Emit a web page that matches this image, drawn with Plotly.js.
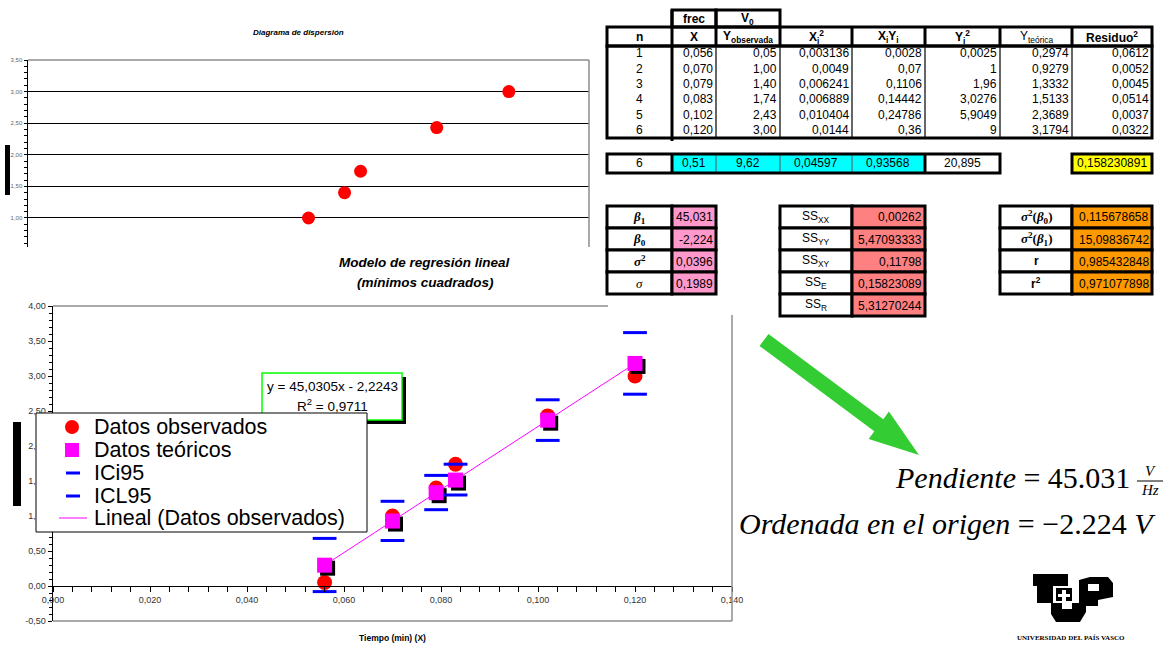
<!DOCTYPE html>
<html><head><meta charset="utf-8">
<script src="https://cdn.plot.ly/plotly-3.0.1.min.js"></script>
<style>html,body{margin:0;padding:0;background:#fff;}#chart{width:1171px;height:645px;}</style>
</head><body><div id="chart"></div>
<script>
// ---------------- DATA ----------------
const nIdx = [1, 2, 3, 4, 5, 6];
const frecX = [0.056, 0.070, 0.079, 0.083, 0.102, 0.120];
const yObservada = [0.05, 1.00, 1.40, 1.74, 2.43, 3.00];
const xi2 = [0.003136, 0.0049, 0.006241, 0.006889, 0.010404, 0.0144];
const xiyi = [0.0028, 0.07, 0.1106, 0.14442, 0.24786, 0.36];
const yi2 = [0.0025, 1, 1.96, 3.0276, 5.9049, 9];
const yTeorica = [0.2974, 0.9279, 1.3332, 1.5133, 2.3689, 3.1794];
const residuo2 = [0.0612, 0.0052, 0.0045, 0.0514, 0.0037, 0.0322];
const ici95 = [-0.08, 0.65, 1.09, 1.30, 2.08, 2.74];
const icl95 = [0.68, 1.21, 1.58, 1.74, 2.66, 3.62];
const sumas = ['6', '0,51', '9,62', '0,04597', '0,93568', '20,895'];
const sumaResiduo2 = '0,158230891';
const topHeaders = ['frec', 'V<sub>0</sub>'];
const headers = ['<b>n</b>', '<b>X</b>', '<b>Y<sub>observada</sub></b>', '<b>X<sub>i</sub><sup>2</sup></b>',
  '<b>X<sub>i</sub>Y<sub>i</sub></b>', '<b>Y<sub>i</sub><sup>2</sup></b>', 'Y<sub>teórica</sub>', '<b>Residuo<sup>2</sup></b>'];
const betaLabels = ['<b><i>β</i><sub>1</sub></b>', '<b><i>β</i><sub>0</sub></b>', '<b><i>σ</i><sup>2</sup></b>', '<i>σ</i>'];
const betaValues = ['45,031', '-2,224', '0,0396', '0,1989'];
const ssLabels = ['SS<sub>XX</sub>', 'SS<sub>YY</sub>', 'SS<sub>XY</sub>', 'SS<sub>E</sub>', 'SS<sub>R</sub>'];
const ssValues = ['0,00262', '5,47093333', '0,11798', '0,15823089', '5,31270244'];
const varLabels = ['<b><i>σ</i><sup>2</sup>(<i>β</i><sub>0</sub>)</b>', '<b><i>σ</i><sup>2</sup>(<i>β</i><sub>1</sub>)</b>', '<b>r</b>', '<b>r<sup>2</sup></b>'];
const varValues = ['0,115678658', '15,09836742', '0,985432848', '0,971077898'];
const ecuacion = ['y = 45,0305x - 2,2243', 'R<sup>2</sup> = 0,9711'];
const legendNames = ['Datos observados', 'Datos teóricos', 'ICi95', 'ICL95', 'Lineal (Datos observados)'];
const yTickVals = [-0.5, 0, 0.5, 1, 1.5, 2, 2.5, 3, 3.5, 4];
const yTickText = ['-0,50', '0,00', '0,50', '1,00', '1,50', '2,00', '2,50', '3,00', '3,50', '4,00'];
const titles = {
  top: '<b><i>Diagrama de dispersión</i></b>',
  main1: '<b><i>Modelo de regresión lineal</i></b>',
  main2: '<b><i>(mínimos cuadrados)</i></b>',
  xMain: '<b>Tiempo (min) (X)</b>',
  pendiente: '<i>Pendiente</i> = 45.031',
  ordenada: '<i>Ordenada en el origen</i> = −2.224 <i>V</i>',
  uni: '<b>UNIVERSIDAD DEL PAÍS VASCO</b>'
};

// ---------------- LAYOUT HELPERS ----------------
const W = 1171, H = 645;
const SANS = 'Liberation Sans, Arial, sans-serif';
const SERIF = 'Liberation Serif, Times New Roman, serif';
const px = x => x / W;
const py = y => 1 - y / H;
const shapes = [], annotations = [];
function rect(x0, y0, x1, y1, fill, lc, lw) {
  shapes.push({type: 'rect', xref: 'paper', yref: 'paper', x0: px(x0), x1: px(x1), y0: py(y1), y1: py(y0),
    fillcolor: fill || 'rgba(0,0,0,0)', line: {color: lc || 'rgba(0,0,0,0)', width: lw || 0}});
}
function circ(x0, y0, x1, y1, fill) {
  shapes.push({type: 'circle', xref: 'paper', yref: 'paper', x0: px(x0), x1: px(x1), y0: py(y1), y1: py(y0),
    fillcolor: fill, line: {width: 0}});
}
function seg(x0, y0, x1, y1, c, w) {
  shapes.push({type: 'line', xref: 'paper', yref: 'paper', x0: px(x0), x1: px(x1), y0: py(y0), y1: py(y1), line: {color: c, width: w}});
}
function poly(pts, fill) {
  const d = 'M' + pts.map(p => px(p[0]) + ',' + py(p[1])).join('L') + 'Z';
  shapes.push({type: 'path', xref: 'paper', yref: 'paper', path: d, fillcolor: fill, line: {width: 0}});
}
function txt(x, y, t, o) {
  o = o || {};
  annotations.push({xref: 'paper', yref: 'paper', x: px(x), y: py(y), text: t, showarrow: false,
    xanchor: o.xa || 'center', yanchor: o.ya || 'middle', borderpad: 0,
    font: {family: o.f || SANS, size: o.s || 12, color: o.c || '#000'}});
}
const gen = v => String(v).replace('.', ',');
const fix = d => v => v.toFixed(d).replace('.', ',');

// ---------------- PLOT GEOMETRY ----------------
const TOP = {x0: 28, x1: 589, y0: 60, y1: 247, xr: [0, 0.14], yr: [0.541, 3.5]};
const MAIN = {x0: 53, x1: 732, y0: 306, y1: 621, xr: [0, 0.14], yr: [-0.5, 4]};
const mainY0pix = MAIN.y0 + (MAIN.yr[1] - 0) / (MAIN.yr[1] - MAIN.yr[0]) * (MAIN.y1 - MAIN.y0);
const SHADOW = 3;
const dxS = SHADOW * (MAIN.xr[1] - MAIN.xr[0]) / (MAIN.x1 - MAIN.x0);
const dyS = -SHADOW * (MAIN.yr[1] - MAIN.yr[0]) / (MAIN.y1 - MAIN.y0);

// ---------------- TRACES ----------------
const traces = [
  {x: frecX, y: yObservada, xaxis: 'x', yaxis: 'y', mode: 'markers', cliponaxis: true,
   marker: {symbol: 'circle', color: '#FF0000', size: 13}, name: legendNames[0], hoverinfo: 'skip'},
  {x: frecX, y: yObservada, xaxis: 'x2', yaxis: 'y2', mode: 'markers',
   marker: {symbol: 'circle', color: '#FF0000', size: 15}, name: legendNames[0]},
  {x: frecX.map(v => v + dxS), y: yTeorica.map(v => v + dyS), xaxis: 'x2', yaxis: 'y2', mode: 'markers',
   marker: {symbol: 'square', color: '#000', size: 15}, hoverinfo: 'skip', name: 'sombra'},
  {x: frecX, y: yTeorica, xaxis: 'x2', yaxis: 'y2', mode: 'markers',
   marker: {symbol: 'square', color: '#FF00FF', size: 15}, name: legendNames[1]},
  {x: frecX, y: ici95, xaxis: 'x2', yaxis: 'y2', mode: 'markers',
   marker: {symbol: 'line-ew', size: 17, line: {color: '#0000FF', width: 3}}, name: legendNames[2]},
  {x: frecX, y: icl95, xaxis: 'x2', yaxis: 'y2', mode: 'markers',
   marker: {symbol: 'line-ew', size: 17, line: {color: '#0000FF', width: 3}}, name: legendNames[3]},
  {x: frecX, y: yTeorica, xaxis: 'x2', yaxis: 'y2', mode: 'lines',
   line: {color: '#FF00FF', width: 1}, name: legendNames[4]}
];

// ---------------- FRAMES / TITLES ----------------
seg(TOP.x0, TOP.y0, TOP.x1, TOP.y0, '#8c8c8c', 1.5);
seg(TOP.x1, TOP.y0, TOP.x1, TOP.y1, '#8c8c8c', 1.5);
rect(5, 145, 10, 195, '#000');
txt(298, 33, titles.top, {s: 8});
seg(MAIN.x0, MAIN.y0, 608, MAIN.y0, '#8c8c8c', 1.5);
seg(MAIN.x1, 315, MAIN.x1, MAIN.y1, '#8c8c8c', 1.5);
seg(MAIN.x0, MAIN.y1, MAIN.x1, MAIN.y1, '#8c8c8c', 1.5);
rect(13, 422, 21, 506, '#000');
txt(424, 263, titles.main1, {s: 13.5});
txt(425, 282, titles.main2, {s: 13.5});
txt(392, 638, titles.xMain, {s: 8.5});

// equation box
rect(266, 377, 406, 424, '#000');
rect(262, 373, 402, 420, '#fff', '#00FF00', 1.5);
txt(332, 386, ecuacion[0], {s: 13.5});
txt(332, 405, ecuacion[1], {s: 13.5});

// legend
rect(36, 413, 367, 532, '#fff', '#000', 1);
const LEG_Y = [427, 450, 473, 496, 518];
circ(65, LEG_Y[0] - 7, 79, LEG_Y[0] + 7, '#FF0000');
rect(65, LEG_Y[1] - 7, 79, LEG_Y[1] + 7, '#FF00FF');
seg(66, LEG_Y[2], 80, LEG_Y[2], '#0000FF', 3);
seg(66, LEG_Y[3], 80, LEG_Y[3], '#0000FF', 3);
seg(59, LEG_Y[4], 87, LEG_Y[4], '#FF00FF', 1);
legendNames.forEach((nm, i) => txt(93, LEG_Y[i], nm, {xa: 'left', s: 21.5}));

// ---------------- MAIN TABLE ----------------
const colEdges = [607, 672, 716, 780, 852, 925, 1000, 1072, 1152];
const R = {top: 10, head: 27, headBot: 46, dataBot: 138, sumTop: 154, sumBot: 173};
const rowH = (R.dataBot - R.headBot) / 6;
const cols = [nIdx.map(String), frecX.map(fix(3)), yObservada.map(fix(2)), xi2.map(gen), xiyi.map(gen),
  yi2.map(gen), yTeorica.map(fix(4)), residuo2.map(fix(4))];
const sumFill = ['#fff', '#00FFFF', '#00FFFF', '#00FFFF', '#00FFFF', '#fff'];
sumFill.forEach((f, i) => rect(colEdges[i], R.sumTop, colEdges[i + 1], R.sumBot, f));
rect(colEdges[7], R.sumTop, colEdges[8], R.sumBot, '#FFFF00');
rect(colEdges[1], R.top, colEdges[2], R.head, null, '#000', 3);
rect(colEdges[2], R.top, colEdges[3], R.head, null, '#000', 3);
rect(colEdges[0], R.head, colEdges[8], R.headBot, null, '#000', 3);
for (let i = 2; i < 8; i++) seg(colEdges[i], R.head, colEdges[i], R.headBot, '#000', 3);
for (let i = 2; i < 8; i++) seg(colEdges[i], R.headBot, colEdges[i], R.dataBot, '#333', 1.5);
rect(colEdges[0], R.headBot, colEdges[8], R.dataBot, null, '#000', 3);
seg(colEdges[1], R.top, colEdges[1], R.dataBot + 3, '#000', 3);
for (let i = 2; i < 5; i++) seg(colEdges[i], R.sumTop, colEdges[i], R.sumBot, '#555', 1);
seg(colEdges[1], R.sumTop, colEdges[1], R.sumBot, '#000', 3);
seg(colEdges[5], R.sumTop, colEdges[5], R.sumBot, '#000', 3);
rect(colEdges[0], R.sumTop, colEdges[6], R.sumBot, null, '#000', 3);
rect(colEdges[7], R.sumTop, colEdges[8], R.sumBot, null, '#000', 3);
topHeaders.forEach((t, i) => txt((colEdges[i + 1] + colEdges[i + 2]) / 2, (R.top + R.head) / 2 + 0.5, '<b>' + t + '</b>', {s: 12}));
headers.forEach((t, i) => txt((colEdges[i] + colEdges[i + 1]) / 2, (R.head + R.headBot) / 2, t, {s: 12}));
cols.forEach((col, c) => col.forEach((v, r) => {
  const yc = R.headBot + (r + 0.5) * rowH - 0.5;
  if (c === 0) txt((colEdges[0] + colEdges[1]) / 2, yc, v, {s: 12});
  else txt(colEdges[c + 1] - 2.5, yc, v, {s: 12, xa: 'right'});
}));
sumas.forEach((v, i) => txt((colEdges[i] + colEdges[i + 1]) / 2, (R.sumTop + R.sumBot) / 2, v, {s: 12}));
txt((colEdges[7] + colEdges[8]) / 2, (R.sumTop + R.sumBot) / 2, sumaResiduo2, {s: 12});

// ---------------- SMALL TABLES ----------------
function smallTable(x0, x1, x2, y0, rh, labels, values, fill, labelFont) {
  labels.forEach((lab, i) => {
    const ya = y0 + i * rh, yb = ya + rh;
    rect(x0, ya, x1, yb, '#fff', '#000', 3);
    rect(x1, ya, x2, yb, fill, '#000', 3);
    txt((x0 + x1) / 2, (ya + yb) / 2, lab, {s: labelFont(i).s, f: labelFont(i).f});
    txt(x2 - 2.5, (ya + yb) / 2 + 0.5, values[i], {s: 12, xa: 'right'});
  });
}
smallTable(607, 672, 716, 206, 22, betaLabels, betaValues, '#FF99CC', () => ({f: SERIF, s: 13}));
smallTable(780, 852, 925, 206, 22, ssLabels, ssValues, '#FF8080', () => ({f: SANS, s: 12}));
smallTable(1000, 1072, 1152, 206, 22, varLabels, varValues, '#FF9900', i => (i < 2 ? {f: SERIF, s: 13} : {f: SANS, s: 12}));

// ---------------- ARROW ----------------
poly([[768.5, 334], [883.3, 419.2], [888.9, 411.5], [919, 455], [868.7, 438.9], [874.3, 431.2], [759.5, 346]], '#33CC33');

// ---------------- EQUATIONS ----------------
txt(1131, 477, titles.pendiente, {xa: 'right', f: SERIF, s: 30});
txt(1150, 471, '<i>V</i>', {f: SERIF, s: 15});
seg(1137, 481, 1163, 481, '#000', 1);
txt(1150, 490, '<i>Hz</i>', {f: SERIF, s: 15});
txt(1157, 523, titles.ordenada, {xa: 'right', f: SERIF, s: 30});

// ---------------- LOGO ----------------
poly([[1033, 574], [1068, 574], [1068, 586], [1053, 586], [1053, 603], [1037, 603], [1037, 586], [1033, 586]], '#000');
rect(1056, 588, 1072, 601, '#000');
rect(1062, 590, 1066, 601, '#fff');
rect(1058, 594, 1070, 597, '#fff');
poly([[1079, 580], [1090, 577], [1108, 577], [1113, 583], [1113, 597], [1098, 600], [1098, 606], [1079, 606]], '#000');
rect(1088, 584, 1099, 591, '#fff');
poly([[1051, 603], [1062, 603], [1062, 609], [1072, 609], [1072, 603], [1086, 603], [1086, 612], [1080, 622], [1056, 622], [1051, 614]], '#000');
txt(1071, 638, titles.uni, {f: SERIF, s: 7});

// ---------------- LAYOUT ----------------
const layout = {
  width: W, height: H, margin: {l: 0, r: 0, t: 0, b: 0}, paper_bgcolor: '#fff', plot_bgcolor: 'rgba(0,0,0,0)',
  separators: ',.', showlegend: false, font: {family: SANS},
  xaxis: {domain: [px(TOP.x0), px(TOP.x1)], range: TOP.xr, visible: false, anchor: 'y', fixedrange: true},
  yaxis: {domain: [py(TOP.y1), py(TOP.y0)], range: TOP.yr, anchor: 'x', tick0: 0, dtick: 0.5, tickformat: '.2f',
    showgrid: true, gridcolor: '#000', gridwidth: 1, zeroline: false, showline: true, linecolor: '#000', linewidth: 1.5,
    ticks: 'outside', ticklen: 3, tickcolor: '#000', tickfont: {family: SANS, size: 6, color: '#666'},
    minor: {tickmode: 'linear', tick0: 0, dtick: 0.1, ticks: 'outside', ticklen: 3, tickcolor: '#000', showgrid: false}},
  xaxis2: {domain: [px(MAIN.x0), px(MAIN.x1)], range: MAIN.xr, anchor: 'free', position: py(mainY0pix),
    tick0: 0, dtick: 0.02, tickformat: '.3f', showgrid: false, zeroline: false, showline: true, linecolor: '#000', linewidth: 1,
    ticks: 'outside', ticklen: 5, tickcolor: '#000', tickfont: {family: SANS, size: 9, color: '#333'},
    minor: {tickmode: 'linear', tick0: 0, dtick: 0.004, ticks: 'outside', ticklen: 5, tickcolor: '#000', showgrid: false}},
  yaxis2: {domain: [py(MAIN.y1), py(MAIN.y0)], range: MAIN.yr, anchor: 'x2', tickmode: 'array', tickvals: yTickVals, ticktext: yTickText,
    showgrid: false, zeroline: false, showline: true, linecolor: '#000', linewidth: 1.5,
    ticks: 'outside', ticklen: 4, tickcolor: '#000', tickfont: {family: SANS, size: 9, color: '#333'},
    minor: {tickmode: 'linear', tick0: 0, dtick: 0.1, ticks: 'outside', ticklen: 3, tickcolor: '#000', showgrid: false}},
  shapes: shapes, annotations: annotations
};
Plotly.newPlot('chart', traces, layout, {displayModeBar: false, staticPlot: true});
</script></body></html>
